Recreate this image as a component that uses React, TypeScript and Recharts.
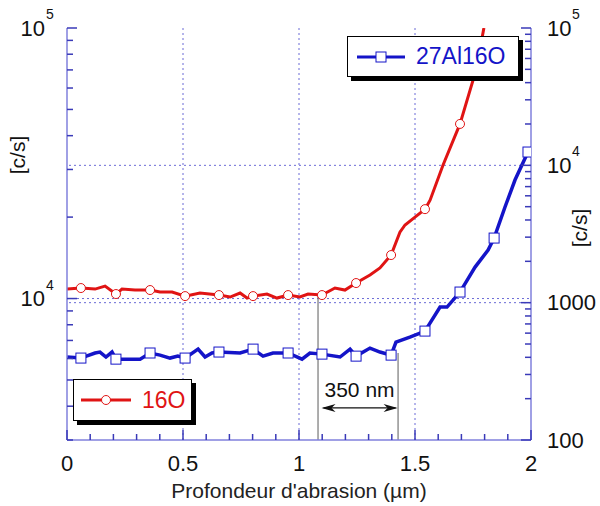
import React from "react";
import { ComposedChart, Line, XAxis, YAxis, ReferenceLine } from "recharts";

// 16O, left axis (c/s)
const redDepth = [0, 0.06, 0.121, 0.164, 0.211, 0.237, 0.293, 0.358, 0.401, 0.453, 0.509, 0.573, 0.655, 0.703, 0.746, 0.776, 0.802, 0.862, 0.905, 0.953, 1.004, 1.039, 1.099, 1.155, 1.198, 1.246, 1.306, 1.349, 1.397, 1.435, 1.457, 1.5, 1.543, 1.565, 1.621, 1.694, 1.763, 1.797];
const redCps = [10840, 10935, 10840, 11120, 10390, 10840, 10750, 10750, 10570, 10570, 10210, 10480, 10300, 10130, 10480, 10040, 10210, 10390, 10040, 10300, 10130, 10390, 10300, 10935, 10750, 11410, 12220, 12970, 14480, 17600, 18700, 20000, 21400, 23100, 31150, 44200, 69900, 100000];
const redMarkers = [0.06, 0.211, 0.358, 0.509, 0.655, 0.802, 0.953, 1.099, 1.246, 1.397, 1.543, 1.694];

// 27Al16O, right axis (c/s)
const blueDepth = [0, 0.06, 0.121, 0.142, 0.168, 0.194, 0.211, 0.272, 0.315, 0.358, 0.401, 0.444, 0.478, 0.509, 0.565, 0.595, 0.625, 0.655, 0.746, 0.802, 0.845, 0.888, 0.953, 1.013, 1.047, 1.099, 1.177, 1.22, 1.246, 1.306, 1.349, 1.397, 1.418, 1.478, 1.522, 1.543, 1.608, 1.638, 1.694, 1.759, 1.815, 1.841, 1.888, 1.931, 1.987];
const blueCps = [402, 395, 430, 437, 402, 437, 388, 388, 388, 430, 415, 395, 408, 395, 459, 402, 430, 437, 430, 459, 408, 430, 430, 388, 430, 422, 402, 459, 408, 467, 437, 415, 516, 562, 601, 621, 929, 929, 1195, 1816, 2416, 2954, 4970, 7815, 12500];
const blueMarkers = [0.06, 0.211, 0.358, 0.509, 0.655, 0.802, 0.953, 1.099, 1.246, 1.397, 1.543, 1.694, 1.841, 1.987];

const xTicks = [0, 0.1, 0.2, 0.3, 0.4, 0.5, 0.6, 0.7, 0.8, 0.9, 1, 1.1, 1.2, 1.3, 1.4, 1.5, 1.6, 1.7, 1.8, 1.9, 2];
const xLabels = [0, 0.5, 1, 1.5, 2];
const leftTicks = [3000, 4000, 5000, 6000, 7000, 8000, 9000, 10000, 20000, 30000, 40000, 50000, 60000, 70000, 80000, 90000, 100000];
const rightTicks = [100, 200, 300, 400, 500, 600, 700, 800, 900, 1000, 2000, 3000, 4000, 5000, 6000, 7000, 8000, 9000, 10000, 20000, 30000, 40000, 50000, 60000, 70000, 80000, 90000, 100000];
const gridDepths = [0.5, 1, 1.5];

// annotation: 350 nm between the two drops
const markA = { depth: 1.082, top: 10300 };
const markB = { depth: 1.427, top: 430 };
const arrowY = 3940;

const AXIS = "#8080dc";
const TICK = "#3a3ab8";
const GRID = "#6b6bd6";
const RED = "#e01414";
const BLUE = "#1414c8";
const FONT = "'Liberation Sans', Arial, sans-serif";

const isDecade = (v: number) => Math.abs(Math.log10(v) - Math.round(Math.log10(v))) < 1e-9;

function powLabel(v: number) {
  const e = Math.round(Math.log10(v));
  if (e <= 3) return [String(v), ""];
  return ["10", String(e)];
}

function LeftTick(props: any) {
  const { x, y, payload } = props;
  const v = payload.value;
  const major = isDecade(v);
  const [base, exp] = powLabel(v);
  return (
    <g>
      <path d={`M${x},${y}h${major ? 10 : 6}`} stroke={TICK} strokeWidth={1.5} fill="none" />
      {major && (
        <text x={x - 22} y={y} dy="0.35em" textAnchor="end" fontSize={22} fill="#111" fontFamily={FONT}>
          {base}
        </text>
      )}
      {major && exp && (
        <text x={x - 21} y={y - 9} fontSize={14} fill="#111" fontFamily={FONT}>
          {exp}
        </text>
      )}
    </g>
  );
}

function RightTick(props: any) {
  const { x, y, payload } = props;
  const v = payload.value;
  const major = isDecade(v);
  const [base, exp] = powLabel(v);
  return (
    <g>
      <path d={`M${x},${y}h${major ? -10 : -6}`} stroke={TICK} strokeWidth={1.5} fill="none" />
      {major && (
        <text x={x + 16} y={y} dy="0.35em" textAnchor="start" fontSize={22} fill="#111" fontFamily={FONT}>
          {base}
        </text>
      )}
      {major && exp && (
        <text x={x + 41} y={y - 9} fontSize={14} fill="#111" fontFamily={FONT}>
          {exp}
        </text>
      )}
    </g>
  );
}

function BottomTick(props: any) {
  const { x, y, payload } = props;
  const v = payload.value;
  const major = xLabels.some((l) => Math.abs(l - v) < 1e-9);
  return (
    <g>
      <path d={`M${x},${y}v${major ? -10 : -6}`} stroke={TICK} strokeWidth={1.5} fill="none" />
      {major && (
        <text x={x} y={y + 31} textAnchor="middle" fontSize={22} fill="#111" fontFamily={FONT}>
          {String(v)}
        </text>
      )}
    </g>
  );
}

function TopTick(props: any) {
  const { x, y, payload } = props;
  const v = payload.value;
  const major = xLabels.some((l) => Math.abs(l - v) < 1e-9);
  return <path d={`M${x},${y}v${major ? 10 : 6}`} stroke={TICK} strokeWidth={1.5} fill="none" />;
}

function ArrowShape(props: any) {
  const { x1, y1, x2 } = props;
  const y = y1;
  return (
    <g>
      <line x1={x1 + 2} x2={x2 - 2} y1={y} y2={y} stroke="#111" strokeWidth={1.2} />
      <path d={`M${x1} ${y} L${x1 + 14} ${y - 4} L${x1 + 10} ${y} L${x1 + 14} ${y + 4} Z`} fill="#111" />
      <path d={`M${x2} ${y} L${x2 - 14} ${y - 4} L${x2 - 10} ${y} L${x2 - 14} ${y + 4} Z`} fill="#111" />
      <text x={(x1 + x2) / 2} y={y - 11} textAnchor="middle" fontSize={21} fill="#111" fontFamily={FONT}>
        350 nm
      </text>
    </g>
  );
}

const near = (list: number[], v: number) => list.some((m) => Math.abs(m - v) < 1e-6);

export default function App() {
  const redData = redDepth.map((d, i) => ({ d, v: redCps[i] }));
  const blueData = blueDepth.map((d, i) => ({ d, v: blueCps[i] }));

  return (
    <div style={{ position: "absolute", left: 0, top: 0, width: 600, height: 506, background: "#fff", fontFamily: FONT }}>
      <ComposedChart width={600} height={506} margin={{ top: 28, right: 0, bottom: 0, left: 0 }}>
        <XAxis
          xAxisId="b"
          type="number"
          dataKey="d"
          domain={[0, 2]}
          ticks={xTicks}
          interval={0}
          height={66}
          tickSize={0}
          tickMargin={0}
          tick={(p: any) => <BottomTick {...p} />}
          axisLine={{ stroke: AXIS, strokeWidth: 1.5 }}
          allowDataOverflow
          label={{ value: "Profondeur d'abrasion (µm)", position: "insideBottom", offset: 8, fontSize: 21, fill: "#222", fontFamily: FONT }}
        />
        <XAxis
          xAxisId="t"
          orientation="top"
          type="number"
          dataKey="d"
          domain={[0, 2]}
          ticks={xTicks}
          interval={0}
          height={0}
          tickSize={0}
          tickMargin={0}
          tick={(p: any) => <TopTick {...p} />}
          axisLine={{ stroke: AXIS, strokeWidth: 1.5 }}
          allowDataOverflow
        />
        <YAxis
          yAxisId="left"
          scale="log"
          type="number"
          domain={[3000, 100000]}
          ticks={leftTicks}
          interval={0}
          width={67}
          tickSize={0}
          tickMargin={0}
          tick={(p: any) => <LeftTick {...p} />}
          axisLine={{ stroke: AXIS, strokeWidth: 1.5 }}
          allowDataOverflow
        />
        <YAxis
          yAxisId="right"
          orientation="right"
          scale="log"
          type="number"
          domain={[100, 100000]}
          ticks={rightTicks}
          interval={0}
          width={69}
          tickSize={0}
          tickMargin={0}
          tick={(p: any) => <RightTick {...p} />}
          axisLine={{ stroke: AXIS, strokeWidth: 1.5 }}
          allowDataOverflow
        />

        {gridDepths.map((g) => (
          <ReferenceLine key={"gx" + g} xAxisId="b" yAxisId="left" x={g} stroke={GRID} strokeDasharray="2 3" strokeWidth={1} />
        ))}
        <ReferenceLine xAxisId="b" yAxisId="left" y={10000} stroke={GRID} strokeDasharray="2 3" strokeWidth={1} />
        <ReferenceLine xAxisId="b" yAxisId="right" y={1000} stroke={GRID} strokeDasharray="2 3" strokeWidth={1} />
        <ReferenceLine xAxisId="b" yAxisId="right" y={10000} stroke={GRID} strokeDasharray="2 3" strokeWidth={1} />

        <ReferenceLine
          xAxisId="b"
          yAxisId="left"
          segment={[{ x: markA.depth, y: 3000 }, { x: markA.depth, y: markA.top }]}
          stroke="#777"
          strokeWidth={1.2}
        />
        <ReferenceLine
          xAxisId="b"
          yAxisId="right"
          segment={[{ x: markB.depth, y: 100 }, { x: markB.depth, y: markB.top }]}
          stroke="#777"
          strokeWidth={1.2}
        />
        <ReferenceLine
          xAxisId="b"
          yAxisId="left"
          segment={[{ x: markA.depth + 0.015, y: arrowY }, { x: markB.depth - 0.002, y: arrowY }]}
          shape={<ArrowShape />}
        />

        <Line
          xAxisId="b"
          yAxisId="left"
          data={redData}
          dataKey="v"
          type="linear"
          stroke={RED}
          strokeWidth={3}
          isAnimationActive={false}
          dot={(p: any) =>
            near(redMarkers, p.payload.d) ? (
              <circle key={"r" + p.index} cx={p.cx} cy={p.cy} r={4.5} fill="#fff" stroke={RED} strokeWidth={1} />
            ) : (
              <g key={"r" + p.index} />
            )
          }
          activeDot={false}
        />
        <Line
          xAxisId="b"
          yAxisId="right"
          data={blueData}
          dataKey="v"
          type="linear"
          stroke={BLUE}
          strokeWidth={3.5}
          isAnimationActive={false}
          dot={(p: any) =>
            near(blueMarkers, p.payload.d) ? (
              <rect key={"b" + p.index} x={p.cx - 5} y={p.cy - 5} width={10} height={10} fill="#fff" stroke={BLUE} strokeWidth={1} />
            ) : (
              <g key={"b" + p.index} />
            )
          }
          activeDot={false}
        />
      </ComposedChart>

      {/* axis titles */}
      <div style={{ position: "absolute", left: 18, top: 155, transform: "translate(-50%, -50%) rotate(-90deg)", fontSize: 21, color: "#111", whiteSpace: "nowrap" }}>
        [c/s]
      </div>
      <div style={{ position: "absolute", left: 580, top: 228, transform: "translate(-50%, -50%) rotate(-90deg)", fontSize: 21, color: "#111", whiteSpace: "nowrap" }}>
        [c/s]
      </div>

      {/* legend boxes */}
      <div style={{ position: "absolute", left: 347, top: 36, width: 170, height: 39, border: "1.5px solid #000", background: "#fff", boxShadow: "4px 4px 0 #000", display: "flex", alignItems: "center" }}>
        <svg width={60} height={20} style={{ marginLeft: 8 }}>
          <line x1={1} x2={49} y1={10} y2={10} stroke={BLUE} strokeWidth={3} />
          <rect x={20} y={5} width={10} height={10} fill="#fff" stroke={BLUE} strokeWidth={1} />
        </svg>
        <span style={{ color: BLUE, fontSize: 23, marginLeft: 0 }}>27Al16O</span>
      </div>
      <div style={{ position: "absolute", left: 73, top: 379, width: 117, height: 40, border: "1.5px solid #000", background: "#fff", boxShadow: "4px 4px 0 #000", display: "flex", alignItems: "center" }}>
        <svg width={62} height={20} style={{ marginLeft: 6 }}>
          <line x1={1} x2={51} y1={10} y2={10} stroke={RED} strokeWidth={3} />
          <circle cx={26} cy={10} r={4.5} fill="#fff" stroke={RED} strokeWidth={1} />
        </svg>
        <span style={{ color: RED, fontSize: 23 }}>16O</span>
      </div>
    </div>
  );
}
